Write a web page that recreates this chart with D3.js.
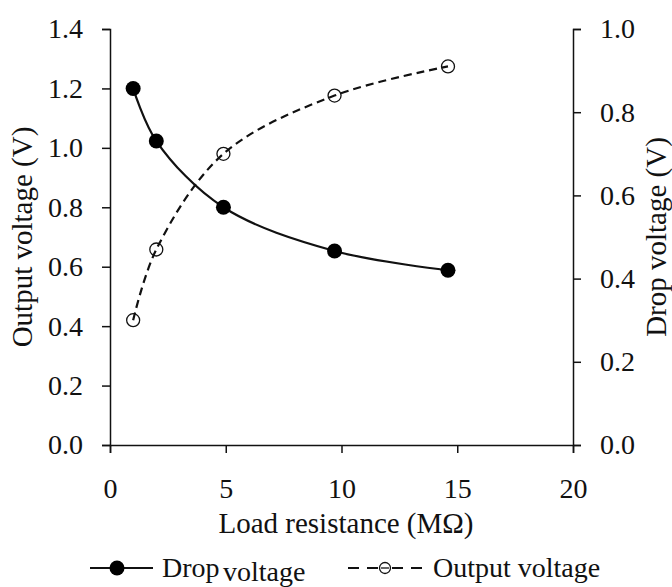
<!DOCTYPE html>
<html>
<head>
<meta charset="utf-8">
<script src="https://cdn.jsdelivr.net/npm/d3@7"></script>
<style>
  body { margin: 0; background: #fff; }
  text { font-family: "Liberation Serif", "Times New Roman", serif; fill: #111; }
</style>
</head>
<body>
<div id="chart"></div>
<script>
// load resistance (MOhm)
var resistance = [1.0, 2.0, 4.9, 9.7, 14.6];
// drop voltage, read against left axis
var dropVoltage = [1.20, 1.023, 0.80, 0.653, 0.588];
// output voltage, read against right axis
var outputVoltage = [0.30, 0.47, 0.70, 0.84, 0.91];

var xTicks = [0, 5, 10, 15, 20];
var leftTicks = [0, 0.2, 0.4, 0.6, 0.8, 1.0, 1.2, 1.4];
var rightTicks = [0, 0.2, 0.4, 0.6, 0.8, 1.0];

var svgWidth = 672, svgHeight = 587;
var margin = { top: 29, bottom: 142, left: 110, right: 99 };
var width = svgWidth - margin.left - margin.right;
var height = svgHeight - margin.top - margin.bottom;

var svg = d3.select("#chart").append("svg")
  .attr("width", svgWidth)
  .attr("height", svgHeight);

var chartGroup = svg.append("g")
  .attr("transform", `translate(${margin.left}, ${margin.top})`);

var xScale = d3.scaleLinear().domain([0, 20]).range([0, width]);
var yLeft = d3.scaleLinear().domain([0, 1.4]).range([height, 0]);
var yRight = d3.scaleLinear().domain([0, 1.0]).range([height, 0]);

// axes
var xAxis = d3.axisBottom(xScale).tickValues(xTicks).tickSize(8).tickPadding(25).tickFormat(d3.format("d"));
var leftAxis = d3.axisLeft(yLeft).tickValues(leftTicks).tickSize(8).tickPadding(19).tickFormat(d3.format(".1f"));
var rightAxis = d3.axisRight(yRight).tickValues(rightTicks).tickSize(8).tickPadding(19).tickFormat(d3.format(".1f"));

var gx = chartGroup.append("g").attr("transform", `translate(0, ${height})`).call(xAxis);
var gl = chartGroup.append("g").call(leftAxis);
var gr = chartGroup.append("g").attr("transform", `translate(${width}, 0)`).call(rightAxis);

[gx, gl, gr].forEach(function(g) {
  g.attr("font-family", null);
  g.selectAll("path").attr("stroke", "#111").attr("stroke-width", 1.5);
  g.selectAll("line").attr("stroke", "#111").attr("stroke-width", 1.5);
  g.selectAll("text").attr("font-size", "28px").attr("fill", "#111");
});

// lines
var dropData = resistance.map((r, i) => ({ x: r, y: dropVoltage[i] }));
var outData = resistance.map((r, i) => ({ x: r, y: outputVoltage[i] }));

var dropLine = d3.line().x(d => xScale(d.x)).y(d => yLeft(d.y)).curve(d3.curveCatmullRom.alpha(0.5));
var outLine = d3.line().x(d => xScale(d.x)).y(d => yRight(d.y)).curve(d3.curveCatmullRom.alpha(0.5));

chartGroup.append("path")
  .datum(outData)
  .attr("d", outLine)
  .attr("fill", "none")
  .attr("stroke", "#111")
  .attr("stroke-width", 2.2)
  .attr("stroke-dasharray", "8,5");

chartGroup.append("path")
  .datum(dropData)
  .attr("d", dropLine)
  .attr("fill", "none")
  .attr("stroke", "#111")
  .attr("stroke-width", 2.2);

chartGroup.selectAll(".outPt")
  .data(outData)
  .enter()
  .append("circle")
  .attr("cx", d => xScale(d.x))
  .attr("cy", d => yRight(d.y))
  .attr("r", 6.5)
  .attr("fill", "none")
  .attr("stroke", "#111")
  .attr("stroke-width", 1.3);

chartGroup.selectAll(".dropPt")
  .data(dropData)
  .enter()
  .append("circle")
  .attr("cx", d => xScale(d.x))
  .attr("cy", d => yLeft(d.y))
  .attr("r", 7.5)
  .attr("fill", "#000");

// axis titles
svg.append("text")
  .attr("transform", `translate(32, ${margin.top + height / 2}) rotate(-90)`)
  .attr("text-anchor", "middle")
  .attr("font-size", "29px")
  .text("Output voltage (V)");

svg.append("text")
  .attr("transform", `translate(666, ${margin.top + height / 2}) rotate(-90)`)
  .attr("text-anchor", "middle")
  .attr("font-size", "29px")
  .text("Drop voltage (V)");

svg.append("text")
  .attr("x", 346)
  .attr("y", 533)
  .attr("text-anchor", "middle")
  .attr("font-size", "29px")
  .text("Load resistance (M\u03A9)");

// legend
var leg = svg.append("g");
leg.append("line").attr("x1", 90).attr("x2", 153).attr("y1", 568).attr("y2", 568)
  .attr("stroke", "#111").attr("stroke-width", 2.2);
leg.append("circle").attr("cx", 117).attr("cy", 568).attr("r", 7.5).attr("fill", "#000");
leg.append("text").attr("x", 162).attr("y", 577).attr("font-size", "28px").text("Drop");
leg.append("text").attr("x", 223).attr("y", 581).attr("font-size", "28px").text("voltage");

leg.append("line").attr("x1", 348).attr("x2", 378).attr("y1", 568).attr("y2", 568)
  .attr("stroke", "#111").attr("stroke-width", 2.2).attr("stroke-dasharray", "11,8");
leg.append("line").attr("x1", 392).attr("x2", 422).attr("y1", 568).attr("y2", 568)
  .attr("stroke", "#111").attr("stroke-width", 2.2).attr("stroke-dasharray", "11,8");
leg.append("line").attr("x1", 381).attr("x2", 389).attr("y1", 568).attr("y2", 568)
  .attr("stroke", "#111").attr("stroke-width", 1.3);
leg.append("circle").attr("cx", 385).attr("cy", 568).attr("r", 5.5)
  .attr("fill", "none").attr("stroke", "#111").attr("stroke-width", 1.3);
leg.append("text").attr("x", 433).attr("y", 577).attr("font-size", "28px").text("Output voltage");
</script>
</body>
</html>
